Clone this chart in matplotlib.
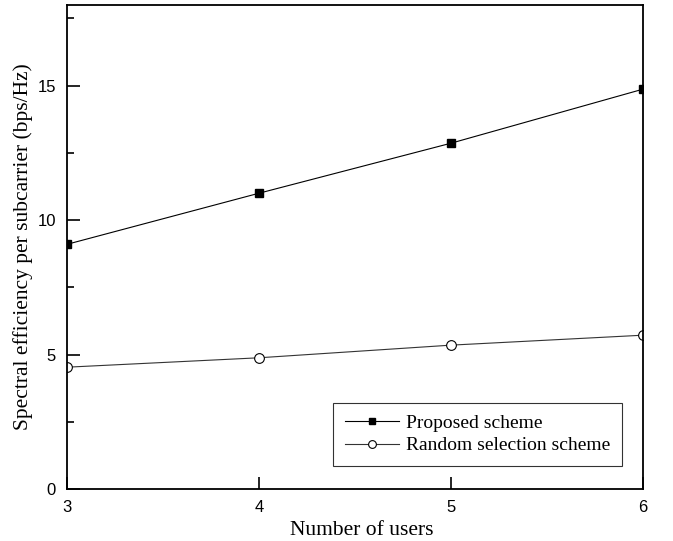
import matplotlib
matplotlib.use("Agg")
import matplotlib.pyplot as plt
from matplotlib.ticker import MultipleLocator

users = [3, 4, 5, 6]
proposed = [9.1, 11.0, 12.86, 14.87]
random_sel = [4.53, 4.88, 5.35, 5.72]

serif = ["Liberation Serif", "DejaVu Serif"]
sans = ["Liberation Sans", "DejaVu Sans"]

fig = plt.figure(figsize=(6.73, 5.41), dpi=100)
ax = fig.add_axes([67 / 673, 1 - 489 / 541, (643 - 67) / 673, (489 - 5) / 541])

ax.plot(users, proposed, color="black", lw=0.8, marker="s", ms=6,
        mfc="black", mec="black", label="Proposed scheme")
ax.plot(users, random_sel, color="#333333", lw=0.8, marker="o", ms=7,
        mfc="white", mec="black", mew=0.8, label="Random selection scheme")

ax.set_xlim(3, 6)
ax.set_ylim(0, 18)
ax.xaxis.set_major_locator(MultipleLocator(1))
ax.yaxis.set_major_locator(MultipleLocator(5))
ax.yaxis.set_minor_locator(MultipleLocator(2.5))
ax.tick_params(which="both", direction="in", top=False, right=False, width=1.2)
ax.tick_params(which="major", length=9, labelsize=12, pad=8)
ax.tick_params(which="minor", length=5)
for lab in ax.get_xticklabels() + ax.get_yticklabels():
    lab.set_family(sans)
for sp in ax.spines.values():
    sp.set_linewidth(1.3)

ax.set_xlabel("Number of users", family=serif, fontsize=15.5)
ax.xaxis.set_label_coords(0.512, -0.066)
ax.set_ylabel("Spectral efficiency per subcarrier (bps/Hz)", family=serif,
              fontsize=15.5, labelpad=3)

leg = ax.legend(loc="lower right", bbox_to_anchor=(0.9635, 0.0475),
                borderaxespad=0,
                prop={"family": serif, "size": 14}, frameon=True,
                fancybox=False, edgecolor="black", handlelength=2.8,
                handletextpad=0.35, borderpad=0.6, labelspacing=0.25,
                markerscale=0.8)
leg.get_frame().set_linewidth(0.8)

fig.savefig("out.png", dpi=100)
